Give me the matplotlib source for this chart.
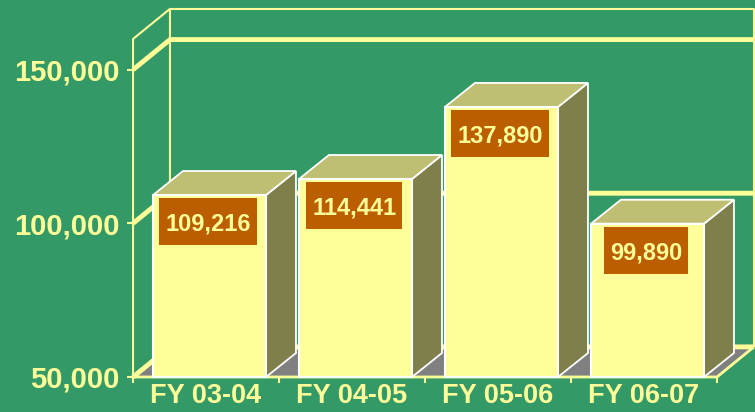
import matplotlib
import numpy as np

matplotlib.use("Agg")
import matplotlib.pyplot as plt
from matplotlib.patches import Polygon
from matplotlib.path import Path

plt.rcParams["font.family"] = ["Liberation Sans", "DejaVu Sans"]
plt.rcParams["font.weight"] = "bold"

categories = ["FY 03-04", "FY 04-05", "FY 05-06", "FY 06-07"]
values = [109216, 114441, 137890, 99890]
y_ticks = [50000, 100000, 150000]
y_tick_labels = ["50,000", "100,000", "150,000"]

# colours
BG = "#339966"
YELLOW = "#FFFF99"
FRONT = "#FFFF99"
TOP = "#BFBF73"
SIDE = "#7F7F4C"
FLOOR = "#808080"
LABEL_BOX = "#BA5E00"

# 3d look
Y_MIN, Y_MAX = 50000, 160000
WALL_DX, WALL_DY = 0.253, 9800
BAR_DX, BAR_DY = 0.205, 7800
BAR_LEFT, BAR_WIDTH = -0.363, 0.774


def label_box(x0, y0, width, height, mutation_size):
    # wide-ish flat box, taller than the text like the excel data labels
    pad_x = 0.26 * mutation_size
    half_h = 1.0 * mutation_size
    cy = y0 + height / 2 + 0.1 * mutation_size
    left, right = x0 - pad_x, x0 + width + pad_x
    verts = [(left, cy - half_h), (right, cy - half_h), (right, cy + half_h),
             (left, cy + half_h), (left, cy - half_h)]
    return Path(verts, closed=True)


fig = plt.figure(figsize=(7.55, 4.12), dpi=100, facecolor=BG)
ax = fig.add_axes([0.1762, 0.085, 0.7735, 0.8204])
ax.patch.set_visible(False)
for spine in ax.spines.values():
    spine.set_visible(False)

n = len(categories)
x_lo, x_hi = -0.5, n - 0.5
ax.set_xlim(x_lo, x_hi)
ax.set_ylim(Y_MIN, Y_MAX)

# floor
ax.add_patch(Polygon(
    [(x_lo, Y_MIN), (x_hi, Y_MIN), (x_hi + WALL_DX, Y_MIN + WALL_DY), (x_lo + WALL_DX, Y_MIN + WALL_DY)],
    closed=True, facecolor=FLOOR, edgecolor="none", zorder=1, clip_on=False,
))

# walls outline
line_kw = dict(color=YELLOW, clip_on=False, zorder=2, solid_capstyle="butt")
ax.plot([x_lo, x_lo, x_lo + WALL_DX, x_lo + WALL_DX],
        [Y_MIN, Y_MAX, Y_MAX + WALL_DY, Y_MIN + WALL_DY], lw=1.5, **line_kw)
ax.plot([x_lo + WALL_DX, x_hi + WALL_DX, x_hi + WALL_DX],
        [Y_MAX + WALL_DY, Y_MAX + WALL_DY, Y_MIN + WALL_DY], lw=1.5, **line_kw)
ax.plot([x_lo, x_hi, x_hi + WALL_DX], [Y_MIN, Y_MIN, Y_MIN + WALL_DY], lw=2, **line_kw)

# gridlines on side and back wall
for t in y_ticks:
    ax.plot([x_lo, x_lo + WALL_DX, x_hi + WALL_DX], [t, t + WALL_DY, t + WALL_DY], lw=3.5, **line_kw)

# bars
for i, v in enumerate(values):
    x0 = i + BAR_LEFT
    x1 = x0 + BAR_WIDTH
    ax.add_patch(Polygon(
        [(x1, Y_MIN), (x1 + BAR_DX, Y_MIN + BAR_DY), (x1 + BAR_DX, v + BAR_DY), (x1, v)],
        closed=True, facecolor=SIDE, edgecolor="white", lw=1.3, zorder=3, clip_on=False,
    ))
    ax.add_patch(Polygon(
        [(x0, v), (x1, v), (x1 + BAR_DX, v + BAR_DY), (x0 + BAR_DX, v + BAR_DY)],
        closed=True, facecolor=TOP, edgecolor="white", lw=1.3, zorder=3, clip_on=False,
    ))
    ax.bar(x0, v - Y_MIN, bottom=Y_MIN, width=BAR_WIDTH, align="edge",
           color=FRONT, edgecolor="white", lw=1.5, zorder=4, clip_on=False)
    ax.annotate(f"{v:,}", xy=(x0 + BAR_WIDTH / 2 - 0.01, v), xytext=(0, -21),
                textcoords="offset points", ha="center", va="center",
                fontsize=17, fontweight="bold", color=YELLOW, zorder=5,
                bbox=dict(boxstyle=label_box, facecolor=LABEL_BOX, edgecolor="none"))

# axes ticks and labels
ax.set_yticks(y_ticks)
ax.set_yticklabels(y_tick_labels)
ax.tick_params(axis="y", length=4, width=1.5, color=YELLOW, pad=6,
               labelsize=21, labelcolor=YELLOW)
ax.set_xticks(range(n))
ax.set_xticklabels(categories)
ax.set_xticks(np.arange(n + 1) - 0.5, minor=True)
ax.tick_params(axis="x", which="major", length=0, pad=4, labelsize=19.5, labelcolor=YELLOW)
ax.tick_params(axis="x", which="minor", length=4, width=1.5, color=YELLOW)
for lbl in ax.get_xticklabels() + ax.get_yticklabels():
    lbl.set_fontweight("bold")

fig.savefig("out.png", dpi=100, facecolor=BG)
